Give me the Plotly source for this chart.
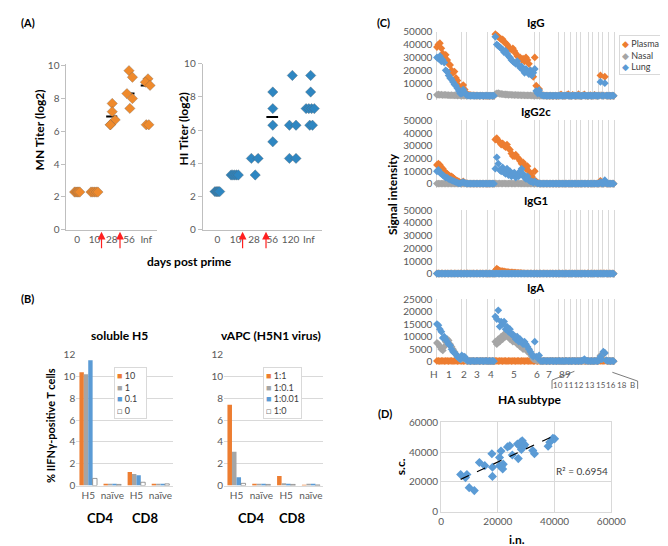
import numpy as np
import plotly.graph_objects as go

# ======================= DATA =======================
# (A) antibody titers (log2)
MN_DAYS = ["0", "10", "28", "56", "Inf"]
MN_TITERS = [
    [2.3, 2.3, 2.3, 2.3, 2.3],
    [2.3, 2.3, 2.3, 2.3, 2.3],
    [7.7, 7.2, 6.7, 6.4, 6.4],
    [9.7, 9.3, 8.3, 8.0, 7.4],
    [9.2, 9.0, 8.8, 6.4, 6.4],
]
MN_BAR = [None, None, 6.9, 8.3, 8.8]

HI_DAYS = ["0", "10", "28", "56", "120", "Inf"]
HI_TITERS = [
    [2.3, 2.3, 2.3, 2.3, 2.3],
    [3.3, 3.3, 3.3, 3.3, 3.3],
    [4.3, 4.3, 3.3],
    [8.3, 7.3, 6.3, 5.3],
    [9.3, 6.3, 6.3, 4.3, 4.3],
    [9.3, 8.3, 7.3, 7.3, 7.3, 7.3, 6.3, 6.3],
]
HI_BAR = [None, None, None, 6.8, None, None]

# (B) % IFNg-positive T cells
B_GROUPS = ["H5", "naïve", "H5", "naïve"]
B_CELLS = ["CD4", "CD8"]
SOL_LABELS = ["10", "1", "0.1", "0"]
SOL_VALUES = [
    [10.4, 0.1, 1.25, 0.1],
    [10.2, 0.1, 1.05, 0.1],
    [11.5, 0.1, 0.95, 0.1],
    [0.65, 0.1, 0.3, 0.15],
]
VAPC_LABELS = ["1:1", "1:0.1", "1:0.01", "1:0"]
VAPC_VALUES = [
    [7.4, 0.1, 0.88, 0.05],
    [3.1, 0.15, 0.2, 0.1],
    [0.75, 0.15, 0.12, 0.1],
    [0.2, 0.1, 0.1, 0.05],
]

# (C) HA array signal intensity (thousands), by HA subtype segment
SUBTYPES = ["1", "2", "3", "4", "5", "6", "7", "8", "9",
            "10", "11", "12", "13", "15", "16", "18", "B"]
SEG_COUNTS = [17, 4, 14, 5, 27, 4, 13, 4, 4, 4, 3, 5, 3, 4, 3, 4, 4]

IGG_PLASMA = [
    [38, 40, 41, 37, 33, 31, 32, 28, 25, 24, 20, 18, 19, 14, 12, 8, 5],
    [2, 8.5, 5, 1.5],
    [1.5, 1, 0.8, 0.6, 0.5, 0.5, 0.4, 0.4, 0.3, 0.3, 0.3, 0.2, 0.2, 0.3],
    [0.2, 0.2, 0.3, 0.2, 0.2],
    [48, 47, 46, 45, 44, 44, 42, 41, 40, 38, 37, 36, 37, 35, 33, 31, 30, 30, 28, 29, 27, 30, 28, 25, 20, 17, 15],
    [30, 8, 3, 5.5],
    [1, 0.8, 0.5, 0.4, 0.3, 0.3, 0.2, 0.3, 0.2, 0.2, 0.3, 0.2, 0.2],
    [0.5, 1.2, 0.3, 0.2], [0.3, 0.8, 1.5, 0.3], [0.2, 1.0, 0.3, 0.2], [0.3, 1.5, 0.2],
    [0.2, 0.5, 1.2, 0.3, 0.2], [0.3, 0.8, 0.2], [0.3, 1.0, 0.2, 0.3], [0.5, 16, 0.5],
    [0.3, 15, 0.4, 0.3], [0.3, 0.2, 0.3, 0.2],
]
IGG_NASAL = [
    [1.0, 1.2, 0.9, 1.1, 0.8, 1.0, 0.9, 0.7, 0.8, 0.6, 0.7, 0.5, 0.6, 0.5, 0.4, 0.5, 0.4],
    [0.4, 0.3, 0.4, 0.3],
    [0.3, 0.3, 0.2, 0.3, 0.3, 0.2, 0.3, 0.3, 0.2, 0.3, 0.3, 0.2, 0.3, 0.3],
    [0.2, 0.3, 0.2, 0.3, 0.2],
    [1.5, 2.0, 2.2, 1.8, 1.6, 1.5, 1.3, 1.2, 1.2, 1.0, 1.1, 0.9, 1.0, 0.8, 0.9, 0.8, 0.7, 0.8, 0.6, 0.7, 0.6, 0.5, 0.6, 0.5, 0.5, 0.4, 0.4],
    [0.4, 0.3, 0.3, 0.3],
    [0.3, 0.2, 0.3, 0.3, 0.2, 0.3, 0.2, 0.3, 0.3, 0.2, 0.3, 0.2, 0.3],
    [0.3, 0.2, 0.3, 0.2], [0.3, 0.3, 0.2, 0.3], [0.2, 0.3, 0.3, 0.2], [0.3, 0.2, 0.3],
    [0.2, 0.3, 0.3, 0.2, 0.3], [0.3, 0.2, 0.3], [0.2, 0.3, 0.3, 0.2], [0.3, 0.5, 0.3],
    [0.3, 0.4, 0.3, 0.2], [0.3, 0.2, 0.3, 0.2],
]
IGG_LUNG = [
    [30, 29, 31, 27, 28, 26, 20, 19, 16, 14, 13, 11, 9, 8, 6, 4, 2],
    [2, 5, 3, 1],
    [0.5, 0.4, 0.3, 0.3, 0.3, 0.2, 0.3, 0.3, 0.2, 0.3, 0.3, 0.2, 0.3, 0.3],
    [0.3, 0.2, 0.3, 0.2, 0.3],
    [46, 40, 39, 38, 37, 36, 34, 35, 33, 31, 30, 28, 27, 26, 25, 27, 24, 22, 23, 20, 18, 21, 19, 17, 20, 16, 18],
    [21, 4, 2, 4.5],
    [1.5, 0.8, 0.4, 0.3, 0.3, 0.2, 0.3, 0.3, 0.2, 0.3, 0.3, 0.2, 0.3],
    [0.3, 0.4, 0.2, 0.3], [0.3, 0.5, 0.3, 0.2], [0.2, 0.4, 0.3, 0.3], [0.3, 0.5, 0.2],
    [0.2, 0.3, 0.6, 0.3, 0.2], [0.3, 0.4, 0.2], [0.3, 0.5, 0.3, 0.2], [0.4, 11, 0.4],
    [0.3, 10, 0.3, 0.3], [0.3, 0.2, 0.3, 0.3],
]
IGG2C_PLASMA = [
    [15, 16, 15, 13, 12, 10, 9, 8, 7, 6, 6, 5, 4, 3, 2.5, 2, 1],
    [1, 2, 1, 0.5],
    [0.4, 0.3, 0.3, 0.2, 0.3, 0.3, 0.2, 0.3, 0.3, 0.2, 0.3, 0.3, 0.2, 0.3],
    [0.2, 0.3, 0.2, 0.3, 0.2],
    [35, 36, 34, 33, 31, 32, 30, 29, 31, 28, 27, 24, 22, 22, 23, 21, 20, 18, 16, 17, 15, 12, 14, 10, 8, 6, 4],
    [10, 2, 1, 0.5],
    [0.3, 0.2, 0.3, 0.3, 0.2, 0.3, 0.2, 0.3, 0.3, 0.2, 0.3, 0.2, 0.3],
    [0.3, 0.2, 0.3, 0.2], [0.3, 0.3, 0.2, 0.3], [0.2, 0.3, 0.3, 0.2], [0.3, 0.2, 0.3],
    [0.2, 0.3, 0.3, 0.2, 0.3], [0.3, 0.2, 0.3], [0.2, 0.3, 0.3, 0.2], [0.3, 2.5, 0.3],
    [0.3, 1.5, 0.3, 0.3], [0.3, 0.2, 0.3, 0.2],
]
IGG2C_NASAL = [
    [0.3, 0.3, 0.2, 0.3, 0.3, 0.2, 0.3, 0.3, 0.2, 0.3, 0.3, 0.2, 0.3, 0.3, 0.2, 0.3, 0.3],
    [0.3, 0.2, 0.3, 0.3],
    [0.3, 0.3, 0.2, 0.3, 0.3, 0.2, 0.3, 0.3, 0.2, 0.3, 0.3, 0.2, 0.3, 0.3],
    [0.2, 0.3, 0.2, 0.3, 0.2],
    [0.4, 0.3, 0.3, 0.4, 0.3, 0.3, 0.4, 0.3, 0.3, 0.3, 0.4, 0.3, 0.3, 0.3, 0.3, 0.4, 0.3, 0.3, 0.3, 0.3, 0.3, 0.3, 0.3, 0.3, 0.3, 0.3, 0.3],
    [0.3, 0.3, 0.2, 0.3],
    [0.3, 0.2, 0.3, 0.3, 0.2, 0.3, 0.2, 0.3, 0.3, 0.2, 0.3, 0.2, 0.3],
    [0.3, 0.2, 0.3, 0.2], [0.3, 0.3, 0.2, 0.3], [0.2, 0.3, 0.3, 0.2], [0.3, 0.2, 0.3],
    [0.2, 0.3, 0.3, 0.2, 0.3], [0.3, 0.2, 0.3], [0.2, 0.3, 0.3, 0.2], [0.3, 0.3, 0.3],
    [0.3, 0.3, 0.3, 0.2], [0.3, 0.2, 0.3, 0.2],
]
IGG2C_LUNG = [
    [10, 11, 9, 8, 7, 6, 5, 5, 4, 3.5, 3, 2.5, 2, 1.5, 1, 0.5, 0.5],
    [1, 1.5, 0.8, 0.5],
    [0.3, 0.3, 0.2, 0.3, 0.3, 0.2, 0.3, 0.3, 0.2, 0.3, 0.3, 0.2, 0.3, 0.3],
    [0.2, 0.3, 0.2, 0.3, 0.2],
    [12, 21, 16, 11, 10, 13, 9, 8, 12, 7, 10, 6, 8, 9, 5, 7, 6, 10, 12, 8, 5, 4, 6, 3, 2, 2, 1],
    [2, 1, 0.5, 0.5],
    [0.3, 0.2, 0.3, 0.3, 0.2, 0.3, 0.2, 0.3, 0.3, 0.2, 0.3, 0.2, 0.3],
    [0.3, 0.2, 0.3, 0.2], [0.3, 0.3, 0.2, 0.3], [0.2, 0.3, 0.3, 0.2], [0.3, 0.2, 0.3],
    [0.2, 0.3, 0.3, 0.2, 0.3], [0.3, 0.2, 0.3], [0.2, 0.3, 0.3, 0.2], [0.3, 1.5, 0.3],
    [0.3, 3, 0.5, 0.3], [0.3, 0.2, 0.3, 0.2],
]
IGG1_PLASMA = [
    [0.3, 0.3, 0.2, 0.3, 0.3, 0.2, 0.3, 0.3, 0.2, 0.3, 0.3, 0.2, 0.3, 0.3, 0.2, 0.3, 0.3],
    [0.3, 0.2, 0.3, 0.3],
    [0.3, 0.3, 0.2, 0.3, 0.3, 0.2, 0.3, 0.3, 0.2, 0.3, 0.3, 0.2, 0.3, 0.3],
    [0.2, 0.3, 0.2, 0.3, 0.2],
    [2.5, 4, 3, 2.5, 2, 2, 1.8, 1.5, 1.5, 1.2, 1, 1, 1, 0.8, 0.8, 0.7, 0.6, 0.6, 0.5, 0.5, 0.4, 0.4, 0.3, 0.3, 0.3, 0.3, 0.2],
    [0.3, 0.3, 0.2, 0.3],
    [0.3, 0.2, 0.3, 0.3, 0.2, 0.3, 0.2, 0.3, 0.3, 0.2, 0.3, 0.2, 0.3],
    [0.3, 0.2, 0.3, 0.2], [0.3, 0.3, 0.2, 0.3], [0.2, 0.3, 0.3, 0.2], [0.3, 0.2, 0.3],
    [0.2, 0.3, 0.3, 0.2, 0.3], [0.3, 0.2, 0.3], [0.2, 0.3, 0.3, 0.2], [0.3, 0.3, 0.3],
    [0.3, 0.3, 0.3, 0.2], [0.3, 0.2, 0.3, 0.2],
]
IGG1_NASAL = [
    [0.2, 0.2, 0.2, 0.2, 0.2, 0.2, 0.2, 0.2, 0.2, 0.2, 0.2, 0.2, 0.2, 0.2, 0.2, 0.2, 0.2],
    [0.2, 0.2, 0.2, 0.2],
    [0.2, 0.2, 0.2, 0.2, 0.2, 0.2, 0.2, 0.2, 0.2, 0.2, 0.2, 0.2, 0.2, 0.2],
    [0.2, 0.2, 0.2, 0.2, 0.2],
    [0.2, 0.2, 0.2, 0.2, 0.2, 0.2, 0.2, 0.2, 0.2, 0.2, 0.2, 0.2, 0.2, 0.2, 0.2, 0.2, 0.2, 0.2, 0.2, 0.2, 0.2, 0.2, 0.2, 0.2, 0.2, 0.2, 0.2],
    [0.2, 0.2, 0.2, 0.2],
    [0.2, 0.2, 0.2, 0.2, 0.2, 0.2, 0.2, 0.2, 0.2, 0.2, 0.2, 0.2, 0.2],
    [0.2, 0.2, 0.2, 0.2], [0.2, 0.2, 0.2, 0.2], [0.2, 0.2, 0.2, 0.2], [0.2, 0.2, 0.2],
    [0.2, 0.2, 0.2, 0.2, 0.2], [0.2, 0.2, 0.2], [0.2, 0.2, 0.2, 0.2], [0.2, 0.2, 0.2],
    [0.2, 0.2, 0.2, 0.2], [0.2, 0.2, 0.2, 0.2],
]
IGG1_LUNG = [
    [0.2, 0.2, 0.1, 0.2, 0.2, 0.1, 0.2, 0.2, 0.1, 0.2, 0.2, 0.1, 0.2, 0.2, 0.1, 0.2, 0.2],
    [0.2, 0.1, 0.2, 0.2],
    [0.2, 0.2, 0.1, 0.2, 0.2, 0.1, 0.2, 0.2, 0.1, 0.2, 0.2, 0.1, 0.2, 0.2],
    [0.1, 0.2, 0.1, 0.2, 0.1],
    [0.2, 0.3, 0.2, 0.2, 0.2, 0.1, 0.2, 0.2, 0.1, 0.2, 0.2, 0.1, 0.2, 0.2, 0.1, 0.2, 0.2, 0.1, 0.2, 0.2, 0.1, 0.2, 0.2, 0.1, 0.2, 0.2, 0.1],
    [0.2, 0.2, 0.1, 0.2],
    [0.2, 0.1, 0.2, 0.2, 0.1, 0.2, 0.1, 0.2, 0.2, 0.1, 0.2, 0.1, 0.2],
    [0.2, 0.1, 0.2, 0.1], [0.2, 0.2, 0.1, 0.2], [0.1, 0.2, 0.2, 0.1], [0.2, 0.1, 0.2],
    [0.1, 0.2, 0.2, 0.1, 0.2], [0.2, 0.1, 0.2], [0.1, 0.2, 0.2, 0.1], [0.2, 0.2, 0.2],
    [0.2, 0.2, 0.2, 0.1], [0.2, 0.1, 0.2, 0.1],
]
IGA_PLASMA = [
    [0.3, 0.3, 0.2, 0.3, 0.3, 0.2, 0.3, 0.3, 0.2, 0.3, 0.3, 0.2, 0.3, 0.3, 0.2, 0.3, 0.3],
    [0.3, 0.2, 0.3, 0.3],
    [0.3, 0.3, 0.2, 0.3, 0.3, 0.2, 0.3, 0.3, 0.2, 0.3, 0.3, 0.2, 0.3, 0.3],
    [0.2, 0.3, 0.2, 0.3, 0.2],
    [0.3, 0.3, 0.2, 0.3, 0.3, 0.2, 0.3, 0.3, 0.2, 0.3, 0.3, 0.2, 0.3, 0.3, 0.2, 0.3, 0.3, 0.2, 0.3, 0.3, 0.2, 0.3, 0.3, 0.2, 0.3, 0.3, 0.2],
    [0.3, 0.3, 0.2, 0.3],
    [0.3, 0.2, 0.3, 0.3, 0.2, 0.3, 0.2, 0.3, 0.3, 0.2, 0.3, 0.2, 0.3],
    [0.3, 0.2, 0.3, 0.2], [0.3, 0.3, 0.2, 0.3], [0.2, 0.3, 0.3, 0.2], [0.3, 0.2, 0.3],
    [0.2, 0.3, 0.3, 0.2, 0.3], [0.3, 0.2, 0.3], [0.2, 0.3, 0.3, 0.2], [0.3, 0.3, 0.3],
    [0.3, 0.3, 0.3, 0.2], [0.3, 0.2, 0.3, 0.2],
]
IGA_NASAL = [
    [7.5, 7, 6, 5, 4.5, 6, 8, 9, 8.5, 7, 6, 5, 4, 3, 2, 1.5, 1],
    [1, 2, 1, 0.5],
    [0.3, 0.3, 0.2, 0.3, 0.3, 0.2, 0.3, 0.3, 0.2, 0.3, 0.3, 0.2, 0.3, 0.3],
    [0.2, 0.3, 0.2, 0.3, 0.2],
    [8, 7, 9, 8, 10, 9, 11, 10, 11, 12, 9, 10, 8, 9, 10, 7, 8, 6, 7, 5, 6, 5, 4, 5, 3, 2, 1],
    [1, 0.5, 0.5, 0.5],
    [0.3, 0.2, 0.3, 0.3, 0.2, 0.3, 0.2, 0.3, 0.3, 0.2, 0.3, 0.2, 0.3],
    [0.3, 0.2, 0.3, 0.2], [0.3, 0.3, 0.2, 0.3], [0.2, 0.3, 0.3, 0.2], [0.3, 0.2, 0.3],
    [0.2, 0.3, 0.3, 0.2, 0.3], [0.3, 0.2, 0.3], [0.2, 0.3, 0.3, 0.2], [1, 2.5, 1],
    [3, 3.5, 0.5, 0.3], [0.3, 0.2, 0.3, 0.2],
]
IGA_LUNG = [
    [15, 14.5, 13, 12, 9.5, 10, 9, 8, 7, 6.5, 5, 4, 3.5, 3, 2, 1.5, 1],
    [2.5, 1.5, 2, 1],
    [0.3, 0.3, 0.2, 0.3, 0.3, 0.2, 0.3, 0.3, 0.2, 0.3, 0.3, 0.2, 0.3, 0.3],
    [0.2, 0.3, 0.2, 0.3, 0.2],
    [18, 17, 20.5, 14, 16, 15, 16, 13, 14, 12, 13, 11, 11, 10, 9, 10, 8, 9, 8, 7, 8, 7, 6, 5, 4, 3, 2],
    [8, 2, 1.5, 2.5],
    [0.3, 0.2, 0.3, 0.3, 0.2, 0.3, 0.2, 0.3, 0.3, 0.2, 0.3, 0.2, 0.3],
    [0.3, 0.2, 0.3, 0.2], [0.3, 0.3, 0.2, 0.3], [0.2, 0.3, 0.3, 0.2], [0.3, 0.2, 0.3],
    [0.3, 0.5, 1.0, 0.5, 0.3], [0.3, 0.2, 0.3], [0.2, 0.3, 0.3, 0.2], [0.5, 2, 1],
    [4, 3.5, 0.5, 0.3], [0.3, 0.2, 0.3, 0.2],
]

# (D) IgG signal, i.n. vs s.c. (thousands)
D_IN = [6.9, 8.6, 9.1, 9.9, 11.7, 13.5, 15.4, 17.9, 18.1, 18.1, 20.6, 20.6, 21.1, 21.4, 21.7,
        21.9, 23.4, 24.2, 25.1, 26.9, 27.2, 27.7, 28.0, 28.3, 28.6, 29.1, 29.5, 32.3, 32.9,
        37.7, 38.3, 39.4, 40.0]
D_SC = [25.0, 22.9, 25.0, 16.2, 14.2, 33.0, 30.9, 38.8, 29.8, 23.7, 36.3, 30.9, 40.6, 30.9, 28.7,
        31.9, 43.4, 44.2, 38.0, 45.3, 35.6, 43.8, 46.6, 41.7, 47.5, 43.8, 44.9, 41.0, 38.8,
        43.8, 46.6, 49.2, 48.8]
D_R2_TEXT = "R² = 0.6954"

# ======================= STYLE / LAYOUT HELPERS =======================
W, H = 668, 546
FONT = "Lato, 'Open Sans', sans-serif"
TICK = dict(family=FONT, size=10, color="#595959")
GRID = "#D9D9D9"
ORANGE, GRAYC, BLUE = "#ED7D31", "#A5A5A5", "#5B9BD5"
A_ORANGE, A_BLUE = "#EF8A2C", "#2E86C1"

MN_JIT = [[-0.15, -0.07, 0, 0.07, 0.15], [-0.2, -0.1, 0, 0.1, 0.2],
          [0.03, 0.03, 0.2, -0.08, -0.08], [0, 0.2, -0.12, 0.2, 0.05],
          [0.1, -0.05, 0.22, 0, 0.15]]
HI_JIT = [[-0.13, -0.06, 0, 0.06, 0.13], [-0.25, -0.15, -0.05, 0.05, 0.15],
          [-0.14, 0.23, 0.07], [0.03, 0.03, 0.03, 0.03],
          [0.1, -0.06, 0.3, -0.06, 0.3], [0.1, 0.1, -0.15, 0, 0.15, 0.3, 0.05, 0.2]]
MN_ARROWS = [2.41, 3.48]
HI_ARROWS = [2.38, 3.66]


def dx(a, b):
    return [a / W, b / W]


def dy(top, bottom):
    return [1 - bottom / H, 1 - top / H]


def ann(text, x, y, size=12, bold=False, color="black", angle=0,
        xanchor="center", yanchor="middle", **kw):
    return dict(text=(f"<b>{text}</b>" if bold else text), x=x / W, y=1 - y / H,
                xref="paper", yref="paper", showarrow=False,
                font=dict(family=FONT, size=size, color=color), textangle=angle,
                xanchor=xanchor, yanchor=yanchor, **kw)


fig = go.Figure()
annotations = []
shapes = []

# ======================= (A) =======================
def titer_panel(days, titers, bars, jit, color, xa, ya):
    bx, by = [], []
    for g, v in enumerate(bars):
        if v is not None:
            bx += [g + 1 - 0.32, g + 1 + 0.32, None]
            by += [v, v, None]
    fig.add_trace(go.Scatter(x=bx, y=by, mode="lines", line=dict(color="black", width=2),
                             xaxis=xa, yaxis=ya, showlegend=False, hoverinfo="skip"))
    xs, ys = [], []
    for g, vals in enumerate(titers):
        for v, j in zip(vals, jit[g]):
            xs.append(g + 1 + j)
            ys.append(v)
    fig.add_trace(go.Scatter(x=xs, y=ys, mode="markers",
                             marker=dict(symbol="diamond", size=8, color=color,
                                         line=dict(color="rgba(90,90,90,0.5)", width=0.6)),
                             xaxis=xa, yaxis=ya, showlegend=False))


titer_panel(MN_DAYS, MN_TITERS, MN_BAR, MN_JIT, A_ORANGE, "x", "y")
titer_panel(HI_DAYS, HI_TITERS, HI_BAR, HI_JIT, A_BLUE, "x2", "y2")

axA = dict(showline=True, linecolor="#BFBFBF", showgrid=False, zeroline=False,
           tickfont=TICK)
layout_axes = {}
layout_axes["xaxis"] = dict(axA, domain=dx(57, 150), range=[0.38, 5.62], anchor="y",
                            tickvals=list(range(1, len(MN_DAYS) + 1)), ticktext=MN_DAYS, ticks="")
layout_axes["yaxis"] = dict(axA, domain=dy(50.3, 220), range=[0, 10.1], anchor="x", dtick=2,
                            ticks="outside", ticklen=4, tickcolor="#BFBFBF")
layout_axes["xaxis2"] = dict(axA, domain=dx(197, 320), range=[0.2, 6.74], anchor="y2",
                             tickvals=list(range(1, len(HI_DAYS) + 1)), ticktext=HI_DAYS, ticks="")
layout_axes["yaxis2"] = dict(axA, domain=dy(50, 220), range=[0, 10], anchor="x2", dtick=2,
                             ticks="outside", ticklen=4, tickcolor="#BFBFBF")

for xa, arrows in (("x", MN_ARROWS), ("x2", HI_ARROWS)):
    for s in arrows:
        annotations.append(dict(x=s, y=1 - 222 / H, xref=xa, yref="paper", text="",
                                showarrow=True, ax=0, ay=18, axref="pixel", ayref="pixel",
                                arrowhead=2, arrowsize=1.3, arrowwidth=1.2,
                                arrowcolor="#FF2020"))

annotations += [
    ann("(A)", 8, 8, size=11, bold=True, xanchor="left"),
    ann("MN Titer (log2)", 29, 118, size=12, bold=True, angle=-90),
    ann("HI Titer (log2)", 177, 117, size=12, bold=True, angle=-90),
    ann("days post prime", 183, 252, size=12, bold=True),
]

# ======================= (B) =======================
BAR_COLORS = [ORANGE, GRAYC, BLUE, "white"]
for vals_set, labels, xa, ya in ((SOL_VALUES, SOL_LABELS, "x3", "y3"),
                                 (VAPC_VALUES, VAPC_LABELS, "x4", "y4")):
    for k, (vals, lab) in enumerate(zip(vals_set, labels)):
        fig.add_trace(go.Bar(x=list(range(len(B_GROUPS))), y=vals, name=lab,
                             marker=dict(color=BAR_COLORS[k],
                                         line=dict(color="#7F7F7F" if k == 3 else BAR_COLORS[k],
                                                   width=0.8 if k == 3 else 0)),
                             xaxis=xa, yaxis=ya, showlegend=False))

axBx = dict(showline=True, linecolor=GRID, showgrid=False, zeroline=False, ticks="",
            tickfont=TICK, tickvals=list(range(len(B_GROUPS))), ticktext=B_GROUPS,
            range=[-0.5, len(B_GROUPS) - 0.5])
axBy = dict(showline=False, showgrid=True, gridcolor=GRID, zeroline=False, dtick=2,
            range=[0, 12], tickfont=TICK, ticks="")
layout_axes["xaxis3"] = dict(axBx, domain=dx(67, 166), anchor="y3")
layout_axes["yaxis3"] = dict(axBy, domain=dy(348, 482), anchor="x3")
layout_axes["xaxis4"] = dict(axBx, domain=dx(219, 321), anchor="y4")
layout_axes["yaxis4"] = dict(axBy, domain=dy(348, 482), anchor="x4")


def legend_text(labels, colors):
    rows = []
    for lab, c in zip(labels, colors):
        if c == "white":
            rows.append(f"<span style='color:#7F7F7F'>□</span> {lab}")
        else:
            rows.append(f"<span style='color:{c}'>■</span> {lab}")
    return "<br>".join(rows)


annotations += [
    ann("(B)", 8, 290, size=11, bold=True, xanchor="left"),
    ann("soluble H5", 111, 328, size=12, bold=True),
    ann("vAPC (H5N1 virus)", 267, 328, size=12, bold=True),
    ann("% IIFNγ-positive T cells", 40, 420, size=11, bold=True, angle=-90),
    ann(B_CELLS[0], 91, 515, size=13, bold=True),
    ann(B_CELLS[1], 138, 515, size=13, bold=True),
    ann(B_CELLS[0], 247, 515, size=13, bold=True),
    ann(B_CELLS[1], 289, 515, size=13, bold=True),
    ann(legend_text(SOL_LABELS, BAR_COLORS), 106, 361, size=9, color="#404040",
        xanchor="left", yanchor="top", align="left", bordercolor=GRID, borderwidth=1,
        borderpad=2, bgcolor="white", width=27),
    ann(legend_text(VAPC_LABELS, BAR_COLORS), 259, 361, size=9, color="#404040",
        xanchor="left", yanchor="top", align="left", bordercolor=GRID, borderwidth=1,
        borderpad=2, bgcolor="white", width=33),
]

# ======================= (C) =======================
def flat(segs):
    return [v * 1000 for seg in segs for v in seg]


n_pts = sum(SEG_COUNTS)
idx = list(range(n_pts))
bounds = list(np.concatenate([[0], np.cumsum(SEG_COUNTS)]) - 0.5)
centers = list(np.concatenate([[0], np.cumsum(SEG_COUNTS)[:-1]]) + np.array(SEG_COUNTS) / 2 - 0.5)

C_PANELS = [
    ("IgG", IGG_PLASMA, IGG_NASAL, IGG_LUNG, 50000, 10000, (17, 87), -3000, 8),
    ("IgG2c", IGG2C_PLASMA, IGG2C_NASAL, IGG2C_LUNG, 50000, 10000, (108, 177), -3000, 99),
    ("IgG1", IGG1_PLASMA, IGG1_NASAL, IGG1_LUNG, 50000, 10000, (200, 269), -3000, 190),
    ("IgA", IGA_PLASMA, IGA_NASAL, IGA_LUNG, 25000, 5000, (291, 359), -1500, 279),
]
for p, (title, pl, na, lu, ymax, dt, (t, b), ymin, ty) in enumerate(C_PANELS):
    xa, ya = f"x{5 + p}", f"y{5 + p}"
    for series, col in ((pl, ORANGE), (na, GRAYC), (lu, BLUE)):
        fig.add_trace(go.Scatter(x=idx, y=flat(series), mode="markers",
                                 marker=dict(symbol="diamond", size=6, color=col, line=dict(width=0)),
                                 xaxis=xa, yaxis=ya, showlegend=False, cliponaxis=False))
    layout_axes[f"xaxis{5 + p}"] = dict(domain=dx(434, 622), range=[-2.5, 122.83], anchor=ya,
                                       tickvals=bounds, showticklabels=False, ticks="",
                                       showgrid=True, gridcolor=GRID, gridwidth=1,
                                       zeroline=False, showline=False)
    layout_axes[f"yaxis{5 + p}"] = dict(domain=dy(t, b), range=[ymin, ymax], anchor=xa,
                                       dtick=dt, tick0=0, tickformat="d", tickfont=TICK,
                                       showgrid=False, zeroline=False, showline=False, ticks="")
    annotations.append(ann(title, 540, ty, size=11.5, bold=True))

for lab, cx in zip(SUBTYPES[:9], centers[:9]):
    annotations.append(dict(text=lab, x=cx, y=1 - 368 / H, xref="x8", yref="paper",
                            showarrow=False, font=TICK, xanchor="center", yanchor="middle"))
annotations.append(ann("H", 435, 368, size=10, color="#595959"))
rest = SUBTYPES[9:]
for k, lab in enumerate(rest):
    annotations.append(ann(lab, 562 + k * (639 - 562) / (len(rest) - 1), 379, size=8,
                           color="#595959"))


def ppath(pts):
    return "M " + " L ".join(f"{x / W:.5f},{1 - y / H:.5f}" for x, y in pts)


shapes += [
    dict(type="path", xref="paper", yref="paper", path=ppath([(579, 365), (556, 374), (556, 383)]),
         line=dict(color="#595959", width=0.8)),
    dict(type="path", xref="paper", yref="paper", path=ppath([(618, 366), (644, 375), (644, 383)]),
         line=dict(color="#595959", width=0.8)),
]

c_leg = "<br>".join(f"<span style='color:{c}'>◆</span> {n}" for n, c in
                    (("Plasma", ORANGE), ("Nasal", GRAYC), ("Lung", BLUE)))
annotations += [
    ann("(C)", 383, 8, size=11, bold=True),
    ann("Signal intensity", 392, 183, size=12, bold=True, angle=-90),
    ann("HA subtype", 533, 394, size=12, bold=True),
    ann(c_leg, 625, 20, size=9, color="#404040", xanchor="left", yanchor="top", align="left",
        bordercolor=GRID, borderwidth=1, borderpad=2, bgcolor="white", width=40),
]

# ======================= (D) =======================
din = np.array(D_IN) * 1000
dsc = np.array(D_SC) * 1000
fig.add_trace(go.Scatter(x=din, y=dsc, mode="markers",
                         marker=dict(symbol="diamond", size=7, color=BLUE, line=dict(width=0)),
                         xaxis="x9", yaxis="y9", showlegend=False))
fit = np.polyfit(din, dsc, 1)
tx = np.array([din.min(), din.max()])
fig.add_trace(go.Scatter(x=tx, y=np.polyval(fit, tx), mode="lines",
                         line=dict(color="black", width=1.2, dash="dash"),
                         xaxis="x9", yaxis="y9", showlegend=False))
axD = dict(range=[0, 60000], dtick=20000, tickformat="d", tickfont=TICK, showgrid=True,
           gridcolor=GRID, zeroline=False, showline=True, mirror=True, linecolor=GRID, ticks="")
layout_axes["xaxis9"] = dict(axD, domain=dx(442, 617), anchor="y9")
layout_axes["yaxis9"] = dict(axD, domain=dy(417, 509), anchor="x9")
annotations += [
    ann("(D)", 384, 408, size=11, bold=True),
    ann("s.c.", 401, 463, size=12, bold=True, angle=-90),
    ann("i.n.", 520, 537, size=12, bold=True),
    ann(D_R2_TEXT, 587, 467, size=10, color="#404040"),
]

fig.update_layout(
    width=W, height=H, margin=dict(l=0, r=0, t=0, b=0),
    paper_bgcolor="white", plot_bgcolor="white",
    font=dict(family=FONT, size=10, color="#404040"),
    barmode="group", bargap=0.27, bargroupgap=0,
    showlegend=False, annotations=annotations, shapes=shapes,
    **layout_axes,
)
fig.write_html("out.html")
